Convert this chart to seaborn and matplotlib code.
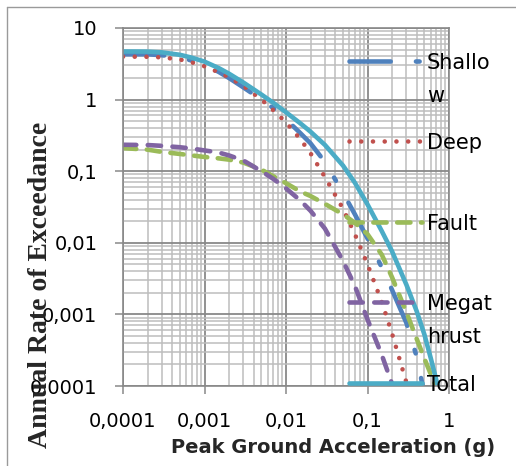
import numpy as np
import pandas as pd
import seaborn as sns
import matplotlib.pyplot as plt
from matplotlib.lines import Line2D
from matplotlib.ticker import LogLocator, NullFormatter

# values
pga = [0.0001, 0.0002, 0.0003, 0.0005, 0.0007, 0.001, 0.0015, 0.002, 0.003,
       0.005, 0.007, 0.01, 0.015, 0.02, 0.03, 0.05, 0.07, 0.1, 0.15, 0.2,
       0.3, 0.4, 0.5, 0.6, 0.7, 0.85, 1.0]
shallow = [4.30, 4.29, 4.17, 3.85, 3.51, 3.09, 2.43, 2.00, 1.48,
           1.00, 0.76, 0.53, 0.34, 0.245, 0.135, 0.050, 0.025, 0.0115, 0.0045, 0.0022,
           0.00076, 0.00026, 0.000076, 0.000025, 0.00001, 0.000003, 0.000001]
deep = [3.98, 3.96, 3.89, 3.63, 3.31, 2.92, 2.40, 2.04, 1.55,
        1.0, 0.71, 0.48, 0.28, 0.178, 0.083, 0.030, 0.0132, 0.0050, 0.00148, 0.00054,
        0.000112, 0.000032, 0.00001, 0.000004, 0.000002, 0.0000004, 0.00000016]
fault = [0.21, 0.20, 0.186, 0.174, 0.166, 0.158, 0.151, 0.145, 0.132,
         0.105, 0.085, 0.068, 0.052, 0.045, 0.035, 0.025, 0.019, 0.0132, 0.0068, 0.0033,
         0.00107, 0.00046, 0.00024, 0.000145, 0.000095, 0.00005, 0.000025]
megathrust = [0.234, 0.232, 0.226, 0.216, 0.207, 0.195, 0.182, 0.166, 0.141,
              0.10, 0.078, 0.0575, 0.039, 0.028, 0.0158, 0.0056, 0.0025, 0.00085, 0.00027, 0.000107,
              0.000025, 0.000008, 0.000003, 0.0000016, 0.0000008, 0.0000003, 0.00000016]
total = [4.70, 4.68, 4.57, 4.22, 3.85, 3.39, 2.75, 2.30, 1.73,
         1.175, 0.90, 0.665, 0.466, 0.356, 0.233, 0.120, 0.069, 0.0344, 0.0145, 0.0076,
         0.0026, 0.00112, 0.00052, 0.00024, 0.00012, 0.00005, 0.000024]

series_names = ["Shallow", "Deep", "Fault", "Megathrust", "Total"]
legend_labels = ["Shallo\nw", "Deep", "Fault", "Megat\nhrust", "Total"]

x_ticks = [0.0001, 0.001, 0.01, 0.1, 1]
x_tick_labels = ["0,0001", "0,001", "0,01", "0,1", "1"]
y_ticks = [0.0001, 0.001, 0.01, 0.1, 1, 10]
y_tick_labels = ["0,0001", "0,001", "0,01", "0,1", "1", "10"]

df = pd.DataFrame({
    "pga": pga * 5,
    "rate": shallow + deep + fault + megathrust + total,
    "source": [n for n in series_names for _ in pga],
})

lw = 3.3
styles = {
    "Shallow": dict(color="#4F81BD", linestyle=(0, (9, 5.5, 0.8, 5.5))),
    "Deep": dict(color="#C0504D", linestyle=(0, (0.01, 2.55))),
    "Fault": dict(color="#9BBB59", linestyle=(0, (2.9, 2.3))),
    "Megathrust": dict(color="#8064A2", linestyle=(0, (2.9, 2.5))),
    "Total": dict(color="#4BACC6", linestyle="-"),
}

sns.set_theme(style="white")
plt.rcParams["font.family"] = ["DejaVu Sans"]

fig = plt.figure(figsize=(5.16, 4.66), dpi=100)
ax = fig.add_axes([123 / 516, 1 - 386 / 466, 326 / 516, 358 / 466])

for name in series_names:
    sns.lineplot(data=df[df["source"] == name], x="pga", y="rate", ax=ax,
                 lw=lw, dash_capstyle="round", solid_capstyle="round",
                 legend=False, **styles[name])

ax.set_xscale("log")
ax.set_yscale("log")
ax.set_xlim(0.0001, 1)
ax.set_ylim(0.0001, 10)

ax.set_xticks(x_ticks, x_tick_labels)
ax.set_yticks(y_ticks, y_tick_labels)
for axis in (ax.xaxis, ax.yaxis):
    axis.set_minor_locator(LogLocator(base=10, subs=np.arange(2, 10)))
    axis.set_minor_formatter(NullFormatter())

ax.grid(True, which="minor", color="#BDBDBD", lw=1.1)
ax.grid(True, which="major", color="#898989", lw=1.3)
ax.set_axisbelow(True)
ax.tick_params(which="major", length=5.5, width=1.1, color="#898989",
               pad=13, labelsize=14, labelcolor="black", bottom=True, left=True)
ax.tick_params(which="minor", length=0)
for sp in ax.spines.values():
    sp.set_color("#898989")
    sp.set_linewidth(1.2)

ax.set_xlabel("Peak Ground Acceleration (g)", fontsize=14, fontweight="bold")
ax.xaxis.set_label_coords(0.643, -0.173)
ax.xaxis.label.set_va("center")
ax.set_ylabel("Annual Rate of Exceedance", fontsize=20, fontweight="bold",
              family="Liberation Serif")
ax.yaxis.set_label_coords(-0.2546, 0.2835)
ax.yaxis.label.set_va("center")

# legend drawn by hand so wrapped labels line up like the original
hx0, hx1, tx = 0.693, 0.917, 0.9325
for i, (name, label) in enumerate(zip(series_names, legend_labels)):
    hy = 0.908 - i * 0.2249
    ax.add_line(Line2D([hx0, hx1], [hy, hy], transform=ax.transAxes,
                       clip_on=False, lw=lw, dash_capstyle="round",
                       solid_capstyle="round", zorder=5, **styles[name]))
    for k, part in enumerate(label.split("\n")):
        ax.text(tx, hy - 0.022 - k * 0.092, part, transform=ax.transAxes,
                fontsize=15, va="baseline", ha="left", color="black", zorder=6)

# outer frame (only top and left edges are visible in the crop)
fig.add_artist(Line2D([7 / 516, 1.0], [1 - 7 / 466, 1 - 7 / 466],
                      transform=fig.transFigure, color="#9A9A9A", lw=1.0))
fig.add_artist(Line2D([7 / 516, 7 / 516], [0.0, 1 - 7 / 466],
                      transform=fig.transFigure, color="#9A9A9A", lw=1.0))

fig.savefig("out.png", dpi=100)
